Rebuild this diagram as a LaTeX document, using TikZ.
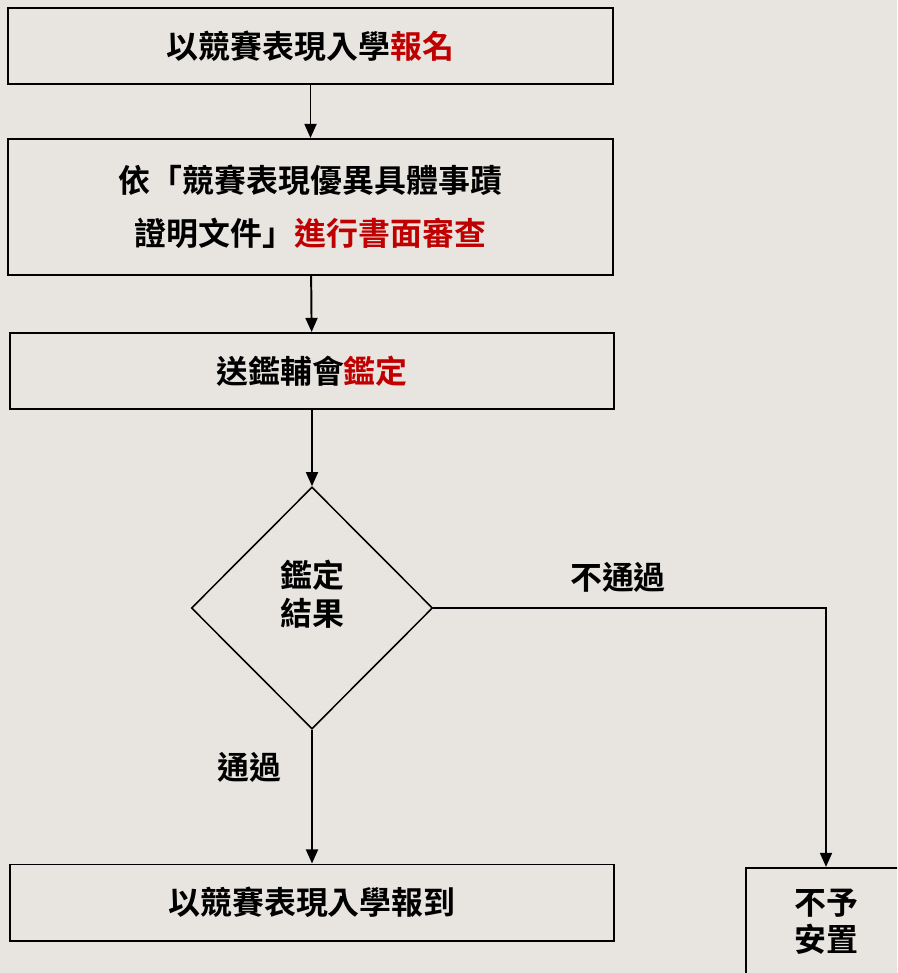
\documentclass[tikz,border=0pt]{standalone}
\usepackage{fontspec}
\newfontfamily\cjk{Noto Sans CJK TC}[BoldFont={* Bold}]
\usepackage{tikz}
\usetikzlibrary{positioning,shapes.geometric,arrows.meta}
\definecolor{paper}{RGB}{232,229,224}
\definecolor{hilite}{RGB}{192,0,0}

\begin{document}
\begin{tikzpicture}[x=0.025cm,y=-0.025cm,
  box/.style={draw,line width=1.4pt,rectangle,inner sep=0pt,align=center,
              minimum width=15.1cm,minimum height=1.9cm,
              font=\cjk\bfseries\fontsize{22.7}{37.7}\selectfont},
  test/.style={draw,line width=1.1pt,diamond,aspect=1,inner sep=0pt,align=center,
               minimum width=6.03cm,minimum height=6.05cm,
               font=\cjk\bfseries\fontsize{22.7}{27}\selectfont},
  lbl/.style={inner sep=0pt,font=\cjk\bfseries\fontsize{22.7}{27}\selectfont},
  flow/.style={-{Triangle[length=10pt,width=8.5pt]},line width=1.4pt}]

% Picture size in pixels of the reference (897 x 973)
\def \W{ 897 }
\def \H{ 973 }

% Paper and frame
\fill[paper] (0,0) rectangle (\W,\H);
\useasboundingbox (0,0) rectangle (\W,\H);
\clip (0,0) rectangle (\W,\H);

% The steps of the procedure
\node[box] (apply) at (310.5,46)
  {以競賽表現入學\textcolor{hilite}{報名}};
\node[box,minimum height=3.4cm] (review) at (310.5,207)
  {依「競賽表現優異具體事蹟\\
   證明文件」\textcolor{hilite}{進行書面審查}};
\node[box] (send) at (312,371)
  {送鑑輔會\textcolor{hilite}{鑑定}};

% The decision (text sits a little above the centre)
\node[test] (result) at (312,608) {鑑定\\結果\\[-6pt]\mbox{}};

% The two outcomes (the right box is cut by the border)
\node[box] (enrol) at (312,902.5) {以競賽表現入學報到};
\node[box,minimum width=4cm,minimum height=2.68cm,font=\cjk\bfseries\fontsize{22.7}{26.5}\selectfont]
  (nopass) at (826,921.5) {不予\\安置};

% Labels of the branches
\node[lbl] (nolbl)  at (618,577) {不通過};
\node[lbl] (yeslbl) at (249,767) {通過};

% Connectors
\draw[flow] (apply)  -- (review);
\draw[flow] (review) -- (send);
\draw[flow] (send)   -- (result);
\draw[flow] (result) -- (enrol);
\draw[flow] (result.east) -| (nopass.north);
\end{tikzpicture}
\end{document}
